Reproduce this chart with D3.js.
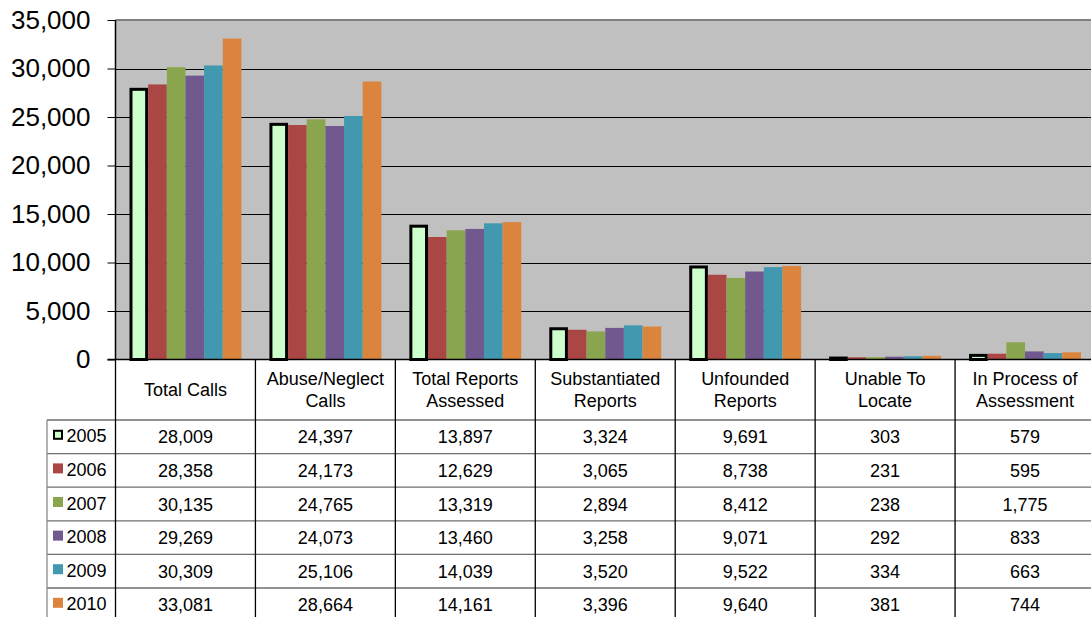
<!DOCTYPE html>
<html><head><meta charset="utf-8">
<script src="https://cdn.jsdelivr.net/npm/d3@7"></script>
<style>
html,body{margin:0;padding:0;background:#fff;}
svg{display:block;font-family:"Liberation Sans",Arial,sans-serif;}
</style></head>
<body><svg id="c" width="1091" height="617"></svg>
<script>
const categories = [["Total Calls"],["Abuse/Neglect","Calls"],["Total Reports","Assessed"],["Substantiated","Reports"],["Unfounded","Reports"],["Unable To","Locate"],["In Process of","Assessment"]];
const years = ["2005","2006","2007","2008","2009","2010"];
const v2005 = [28009,24397,13897,3324,9691,303,579];
const v2006 = [28358,24173,12629,3065,8738,231,595];
const v2007 = [30135,24765,13319,2894,8412,238,1775];
const v2008 = [29269,24073,13460,3258,9071,292,833];
const v2009 = [30309,25106,14039,3520,9522,334,663];
const v2010 = [33081,28664,14161,3396,9640,381,744];
const yTicks = [0,5000,10000,15000,20000,25000,30000,35000];
const colors = ["#ccffcc","#aa4643","#89a54e","#71588f","#4198af","#db843d"];

const series = [v2005,v2006,v2007,v2008,v2009,v2010];
const svg = d3.select("#c");
const L = 115.5, R = 1095, T = 20, B = 359.5;
const catIdx = categories.map((d,i)=>i);
const x = d3.scaleBand().domain(catIdx).range([L, R]).padding(0);
const xs = d3.scaleBand().domain(years).range([14, x.bandwidth()-14]).padding(0);
const y = d3.scaleLinear().domain([0,35000]).range([B, T]);

// plot background
svg.append("rect").attr("x",L).attr("y",T).attr("width",R-L).attr("height",B-T).attr("fill","#c0c0c0");
svg.append("line").attr("x1",L).attr("x2",R).attr("y1",T).attr("y2",T).attr("stroke","#808080").attr("stroke-width",2);
// gridlines
svg.append("g").selectAll("line").data(yTicks.filter(t=>t>0 && t<35000)).join("line")
  .attr("x1",L).attr("x2",R).attr("y1",d=>Math.round(y(d))+0.5).attr("y2",d=>Math.round(y(d))+0.5)
  .attr("stroke","#000").attr("stroke-width",1);

// bars
const g = svg.append("g");
years.forEach((yr,si)=>{
  g.selectAll(null).data(series[si]).join("rect")
    .attr("x",(d,i)=>x(i)+xs(yr) + (si===0?1.5:0))
    .attr("y",d=>y(d) + (si===0?1.5:0))
    .attr("width",xs.bandwidth() - (si===0?3:0))
    .attr("height",d=>Math.max(0,B-y(d) - (si===0?1.5:0)))
    .attr("fill",colors[si])
    .attr("stroke",si===0?"#000":"none")
    .attr("stroke-width",si===0?3:0);
});

// y axis
const ya = d3.axisLeft(y).tickValues(yTicks).tickSize(8).tickPadding(17).tickFormat(d3.format(","));
const yg = svg.append("g").attr("transform",`translate(${L},0)`).call(ya);
yg.select(".domain").remove();
yg.selectAll("text").attr("font-size",26).attr("fill","#000").attr("font-family","'Liberation Sans', Arial, sans-serif");
yg.selectAll(".tick line").attr("stroke","#000");
svg.append("line").attr("x1",L).attr("x2",L).attr("y1",T).attr("y2",B+0.5).attr("stroke","#000").attr("stroke-width",1.5);
svg.append("line").attr("x1",L-8).attr("x2",R).attr("y1",B).attr("y2",B).attr("stroke","#000").attr("stroke-width",1.5);

// table
const headerBottom = 420;
const rowH = 33.6;
const FS = 18;
const tbl = svg.append("g");
// header labels
categories.forEach((lines,i)=>{
  const cx = x(i)+x.bandwidth()/2;
  const t = tbl.append("text").attr("text-anchor","middle").attr("font-size",FS).attr("fill","#000");
  if(lines.length===1){
    t.append("tspan").attr("x",cx).attr("y",396).text(lines[0]);
  } else {
    t.append("tspan").attr("x",cx).attr("y",385).text(lines[0]);
    t.append("tspan").attr("x",cx).attr("y",407).text(lines[1]);
  }
});
// horizontal row lines
for(let r=0;r<=6;r++){
  const yy = headerBottom + r*rowH;
  tbl.append("line").attr("x1",47).attr("x2",R).attr("y1",yy).attr("y2",yy).attr("stroke","#6e6e6e").attr("stroke-width",1.3);
}
// vertical lines
catIdx.forEach(i=>{
  if(i===0) return;
  tbl.append("line").attr("x1",x(i)).attr("x2",x(i)).attr("y1",B).attr("y2",617).attr("stroke","#000").attr("stroke-width",1.3);
});
tbl.append("line").attr("x1",L).attr("x2",L).attr("y1",B).attr("y2",617).attr("stroke","#000").attr("stroke-width",1.3);
tbl.append("line").attr("x1",47).attr("x2",47).attr("y1",headerBottom).attr("y2",617).attr("stroke","#8a8a8a").attr("stroke-width",1.3);
// rows
years.forEach((yr,si)=>{
  const cy = headerBottom + si*rowH + rowH/2;
  tbl.append("rect").attr("x",si===0?54:53).attr("y",cy-7+(si===0?1:0)).attr("width",si===0?8:10).attr("height",si===0?8:10)
    .attr("fill",colors[si]).attr("stroke",si===0?"#000":"none").attr("stroke-width",si===0?2:0);
  tbl.append("text").attr("x",66.5).attr("y",cy+5.5).attr("font-size",FS).attr("fill","#000").text(yr);
  tbl.selectAll(null).data(series[si]).join("text")
    .attr("x",(d,i)=>x(i)+x.bandwidth()/2).attr("y",cy+6.5).attr("text-anchor","middle")
    .attr("font-size",FS).attr("fill","#000").text(d=>d3.format(",")(d));
});
</script></body></html>
